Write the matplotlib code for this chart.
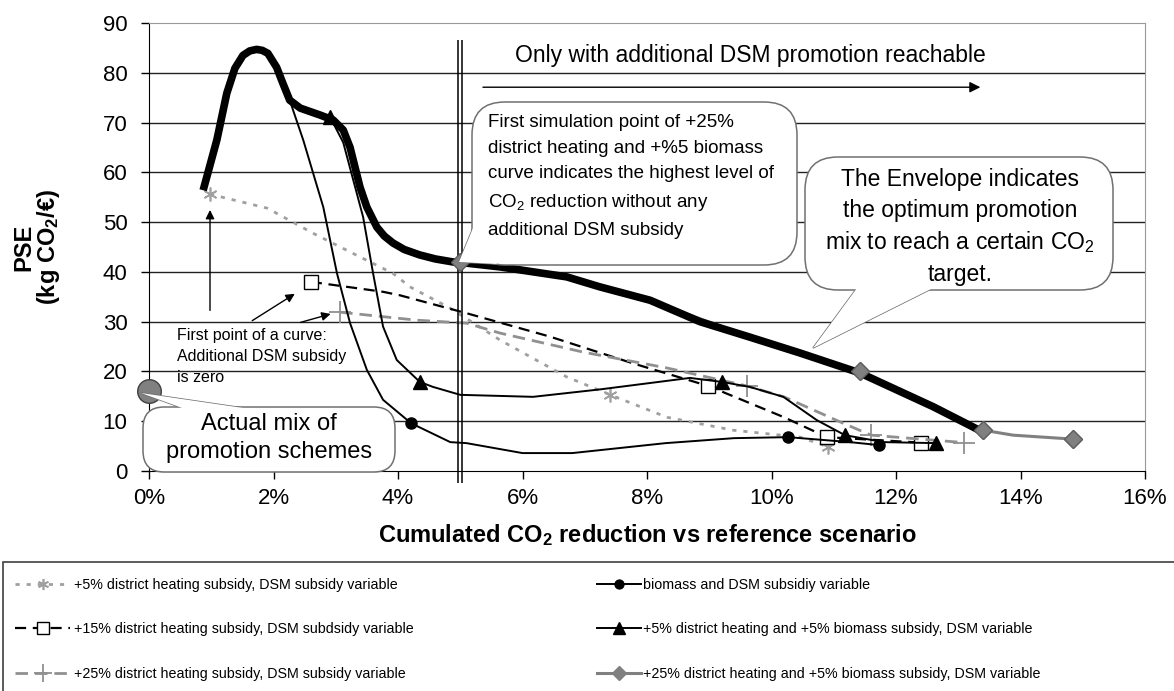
import matplotlib
matplotlib.use("Agg")
import matplotlib.pyplot as plt
from matplotlib import font_manager
from matplotlib.patches import FancyBboxPatch, Polygon, Rectangle

plt.rcParams['font.family'] = ['Liberation Sans', 'DejaVu Sans']
plt.rcParams['mathtext.fontset'] = 'custom'
plt.rcParams['mathtext.rm'] = 'Liberation Sans'
plt.rcParams['mathtext.it'] = 'Liberation Sans:italic'
plt.rcParams['mathtext.bf'] = 'Liberation Sans:bold'

W, H = 1174, 691

# --- data (x in %, y in kg CO2/EUR) ---
dh5_x = [0.98, 1.9, 2.63, 3.39, 3.92, 4.19, 4.84, 5.64, 6.71, 7.41, 8.32, 9.38, 10.46, 10.9]
dh5_y = [55.6, 52.8, 47.8, 43.0, 39.7, 37.0, 32.7, 26.3, 18.9, 15.3, 10.8, 8.2, 6.8, 4.9]
dh5_pts = [0, 9, 13]

dh15_x = [2.6, 3.76, 4.03, 5.1, 6.44, 7.78, 8.98, 9.93, 10.2, 10.89, 12.4]
dh15_y = [38.0, 36.0, 35.3, 31.7, 27.0, 21.6, 17.1, 12.2, 10.8, 6.8, 5.7]
dh15_pts = [0, 6, 9, 10]

dh25_x = [3.07, 4.3, 5.1, 5.64, 6.97, 8.32, 9.6, 10.2, 11.15, 11.6, 13.1]
dh25_y = [31.9, 30.3, 29.7, 27.7, 23.9, 20.7, 17.1, 14.9, 9.6, 7.2, 5.7]
dh25_pts = [0, 6, 9, 10]

bio_x = [2.1, 2.26, 2.48, 2.8, 3.02, 3.23, 3.5, 3.76, 4.21, 4.84, 5.1, 6.0, 6.8, 8.3, 9.4, 10.27, 11.26, 11.73]
bio_y = [79.0, 74.5, 66.4, 53.0, 39.7, 29.7, 20.3, 14.3, 9.6, 5.8, 5.6, 3.6, 3.6, 5.6, 6.6, 6.8, 5.8, 5.2]
bio_pts = [8, 15, 17]

dh5bio_x = [2.91, 3.12, 3.44, 3.6, 3.76, 3.98, 4.35, 4.56, 5.0, 6.17, 7.25, 8.69, 9.2, 9.65, 10.19, 10.73, 11.18, 11.8, 12.64]
dh5bio_y = [71.1, 66.0, 51.0, 39.7, 29.0, 22.3, 17.9, 16.9, 15.3, 14.9, 16.4, 18.7, 17.9, 16.9, 14.9, 10.2, 7.2, 5.8, 5.6]
dh5bio_pts = [0, 6, 12, 16, 18]

dh25bio_x = [5.0, 5.64, 6.71, 8.05, 9.65, 11.42, 12.6, 13.4, 13.88, 14.85]
dh25bio_y = [42.0, 41.0, 39.0, 34.3, 26.9, 20.0, 12.9, 8.2, 7.2, 6.4]
dh25bio_pts = [0, 5, 7, 9]

env_x = [0.87, 1.09, 1.25, 1.38, 1.51, 1.62, 1.73, 1.82, 1.91, 2.05, 2.15, 2.26, 2.43, 2.75,
         2.96, 3.12, 3.23, 3.31, 3.39, 3.5, 3.66, 3.78, 3.92, 4.1, 4.35, 4.6, 4.88, 5.0, 5.64,
         6.71, 7.24, 8.05, 8.85, 9.65, 10.46, 11.42, 12.6, 13.4]
env_y = [56.4, 66.5, 75.9, 80.9, 83.5, 84.4, 84.7, 84.5, 83.9, 81.1, 77.9, 74.5, 72.9, 71.5,
         70.5, 68.5, 65.0, 61.0, 57.0, 53.0, 49.0, 47.2, 45.8, 44.5, 43.4, 42.6, 42.0, 41.9, 41.0,
         39.0, 37.0, 34.3, 30.0, 26.9, 23.7, 19.7, 12.9, 7.8]

actual_x, actual_y = 0.0, 16.0

labels = ["+5% district heating subsidy, DSM subsidy variable",
          "+15% district heating subsidy, DSM subdsidy variable",
          "+25% district heating subsidy, DSM subsidy variable",
          "biomass and DSM subsidiy variable",
          "+5% district heating and +5% biomass subsidy, DSM variable",
          "+25% district heating and +5% biomass subsidy, DSM variable"]

xticks = [0, 2, 4, 6, 8, 10, 12, 14, 16]
yticks = [0, 10, 20, 30, 40, 50, 60, 70, 80, 90]


def fx(px):
    return px / W


def fy(py):
    return 1 - py / H


fig = plt.figure(figsize=(W / 100, H / 100), dpi=100)
ax = fig.add_axes([fx(149), fy(471), fx(1145) - fx(149), fy(23) - fy(471)])
ax.set_xlim(0, 16)
ax.set_ylim(0, 90)

for y in yticks[1:-1]:
    ax.axhline(y, color='#222222', lw=1.0, zorder=0.5)

for s in ['top', 'right']:
    ax.spines[s].set_color('#999999')
ax.spines['left'].set_color('black')
ax.spines['bottom'].set_color('black')

ax.set_xticks(xticks)
ax.set_xticklabels([f"{t}%" for t in xticks])
ax.set_yticks(yticks)
ax.tick_params(axis='both', direction='out', length=5.5, width=1, labelsize=16)
ax.tick_params(axis='x', pad=7)
ax.tick_params(axis='y', pad=10)

ax.set_xlabel(r"Cumulated CO$_\mathbf{2}$ reduction vs reference scenario", fontsize=17, fontweight='bold')
ax.xaxis.set_label_coords(0.5, -0.143)
ax.xaxis.label.set_va('center')
ax.set_ylabel("PSE\n" + r"(kg CO$_\mathbf{2}$/€)", fontsize=17, fontweight='bold', linespacing=1.0)
ax.yaxis.set_label_coords(-0.112, 0.5)
ax.yaxis.label.set_va('center')

# series
l1, = ax.plot(dh5_x, dh5_y, color='#a0a0a0', lw=2, ls=(0, (1.5, 2.5)), marker=(6, 2, 0),
              ms=10, mew=1.2, markevery=dh5_pts, zorder=3)
l2, = ax.plot(dh15_x, dh15_y, color='black', lw=1.6, ls=(0, (5, 3)), marker='s', ms=10,
              mfc='white', mec='black', mew=1, markevery=dh15_pts, zorder=3)
l3, = ax.plot(dh25_x, dh25_y, color='#909090', lw=2, ls=(0, (4.5, 2.5)), marker='+', ms=16,
              mew=1.3, markevery=dh25_pts, zorder=3)
l4, = ax.plot(bio_x, bio_y, color='black', lw=1.4, marker='o', ms=8, markevery=bio_pts, zorder=3)
l5, = ax.plot(dh5bio_x, dh5bio_y, color='black', lw=1.4, marker='^', ms=10,
              markevery=dh5bio_pts, zorder=3)
l6, = ax.plot(dh25bio_x, dh25bio_y, color='#808080', lw=2.2, marker='D', ms=9,
              markevery=dh25bio_pts, zorder=2)

# envelope
ax.plot(env_x, env_y, color='black', lw=5.5, solid_capstyle='butt', solid_joinstyle='round', zorder=4)
ax.plot([dh25bio_x[i] for i in dh25bio_pts], [dh25bio_y[i] for i in dh25bio_pts],
        ls='none', marker='D', ms=9, color='#808080', mec='#606060', zorder=5)

# actual mix
ax.plot(actual_x, actual_y, 'o', ms=17, color='#808080', mec='#404040', mew=1,
        clip_on=False, zorder=6)

# double vertical line at 5%
ax.vlines([4.965, 5.035], -2.4, 86.5, color='black', lw=1.1, clip_on=False, zorder=4)

# "only with..." arrow and text
ax.text(5.88, 83.5, "Only with additional DSM promotion reachable", fontsize=16.5,
        ha='left', va='center')
ax.annotate("", xy=(13.4, 77.1), xytext=(5.32, 77.1),
            arrowprops=dict(arrowstyle='-|>', color='black', lw=1, mutation_scale=16))

# first point annotations
ax.text(0.45, 28.7, "First point of a curve:\nAdditional DSM subsidy\nis zero", fontsize=11.5,
        ha='left', va='top', linespacing=1.5, zorder=6)
arrow_kw = dict(arrowstyle='-|>', color='black', lw=1, mutation_scale=13)
ax.annotate("", xy=(0.98, 53.0), xytext=(0.98, 31.7), arrowprops=arrow_kw)
ax.annotate("", xy=(2.38, 35.9), xytext=(1.62, 29.9), arrowprops=arrow_kw)
ax.annotate("", xy=(2.96, 31.7), xytext=(2.39, 29.7), arrowprops=arrow_kw)


def bubble(x0, y0, x1, y1, tail, rs):
    ec = '#707070'
    tp = Polygon([(fx(a), fy(b)) for a, b in tail], closed=True, transform=fig.transFigure,
                 fc='white', ec=ec, lw=1.1, zorder=5)
    fig.add_artist(tp)
    bx = FancyBboxPatch((fx(x0), fy(y1)), fx(x1) - fx(x0), fy(y0) - fy(y1),
                        boxstyle=f'round,pad=0,rounding_size={rs}', mutation_aspect=W / H,
                        transform=fig.transFigure, fc='white', ec=ec, lw=1.1, zorder=6)
    fig.add_artist(bx)
    # hide border at the base of the tail
    cover = Polygon([(fx(a), fy(b)) for a, b in tail], closed=True, transform=fig.transFigure,
                    fc='white', ec='none', zorder=6.5)
    fig.add_artist(cover)


bubble(472, 102, 797, 265, [(473, 228), (459, 262), (497, 264)], 0.028)
fig.text(fx(488), fy(114), "First simulation point of +25%\ndistrict heating and +%5 biomass\n"
         "curve indicates the highest level of\nCO$_2$ reduction without any\n"
         "additional DSM subsidy", fontsize=13.5, ha='left', va='top', linespacing=1.67, zorder=7)

bubble(805, 157, 1113, 290, [(857, 288), (813, 348), (933, 288)], 0.028)
fig.text(fx(960), fy(227), "The Envelope indicates\nthe optimum promotion\n"
         "mix to reach a certain CO$_2$\ntarget.", fontsize=16.5, ha='center', va='center',
         linespacing=1.4, zorder=7)

bubble(143, 407, 395, 472, [(185, 409), (141, 393), (250, 409)], 0.018)
fig.text(fx(269), fy(438), "Actual mix of\npromotion schemes", fontsize=17, ha='center',
         va='center', linespacing=1.32, zorder=7)

# legend
names = {f.name for f in font_manager.fontManager.ttflist}
if 'Liberation Sans Narrow' in names:
    prop = dict(family='Liberation Sans Narrow', size=13)
else:
    prop = dict(family='Liberation Sans', size=10.3)
fs_px = prop['size'] * 100 / 72
lsp = (47.5 - fs_px * 1.2) / fs_px

fig.add_artist(Rectangle((fx(3), fy(705)), fx(1190) - fx(3), fy(562) - fy(705),
                         transform=fig.transFigure, fill=False, ec='#404040', lw=1.2))
fig.legend([l1, l2, l3], labels[:3], loc='upper left', bbox_to_anchor=(fx(15), fy(578)),
           frameon=False, borderpad=0, borderaxespad=0, handlelength=55 / fs_px,
           handletextpad=0.25, labelspacing=lsp, markerscale=0.8, prop=prop)
fig.legend([l4, l5, l6], labels[3:], loc='upper left', bbox_to_anchor=(fx(597), fy(578)),
           frameon=False, borderpad=0, borderaxespad=0, handlelength=44 / fs_px,
           handletextpad=0.15, labelspacing=lsp, markerscale=0.8, prop=prop)

fig.savefig("out.png", dpi=100)
